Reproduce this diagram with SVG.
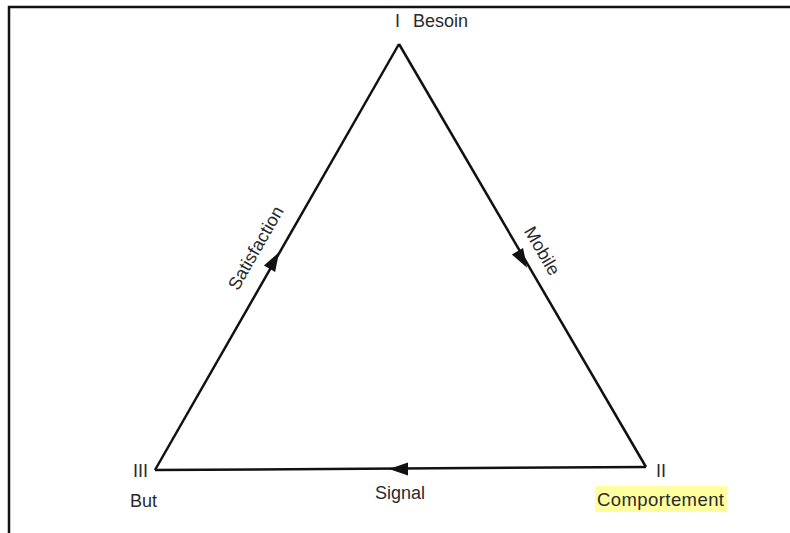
<svg xmlns="http://www.w3.org/2000/svg" width="790" height="533" viewBox="0 0 790 533">
<defs>
<style>
.t{font-family:"Liberation Sans",Arial,sans-serif;font-size:18px;fill:#2a2a2a}
.e{stroke:#111;stroke-width:2.5;fill:none}
.a{fill:#111}
</style>
</defs>
<rect x="0" y="0" width="790" height="533" fill="#fff"/>
<path d="M9 533 V7 H790" fill="none" stroke="#111" stroke-width="2.5"/>
<g id="connectors">
<line class="e" x1="399" y1="44" x2="646" y2="467"/>
<line class="e" x1="646" y1="467" x2="155" y2="470"/>
<line class="e" x1="155" y1="470" x2="399" y2="44"/>
<polygon class="a" transform="translate(522,259) rotate(59.7)" points="10,0 -9,-6.5 -9,6.5"/>
<polygon class="a" transform="translate(399,469) rotate(180)" points="10,0 -9,-6.5 -9,6.5"/>
<polygon class="a" transform="translate(274,261) rotate(-60.2)" points="10,0 -9,-6.5 -9,6.5"/>
<text class="t" transform="translate(261,251) rotate(-60.2)" text-anchor="middle">Satisfaction</text>
<text class="t" transform="translate(537,254) rotate(59.7)" text-anchor="middle">Mobile</text>
<text class="t" x="400" y="499" text-anchor="middle">Signal</text>
</g>
<g id="node-besoin">
<text class="t" x="395" y="27">I</text>
<text class="t" x="413" y="27">Besoin</text>
</g>
<g id="node-but">
<text class="t" x="133" y="477">III</text>
<text class="t" x="130" y="507">But</text>
</g>
<g id="node-comportement">
<text class="t" x="656" y="477">II</text>
<rect x="595" y="486" width="132" height="26" fill="#ffffa0"/>
<text class="t" x="597" y="506" textLength="127" style="font-size:18.5px">Comportement</text>
</g>
</svg>
